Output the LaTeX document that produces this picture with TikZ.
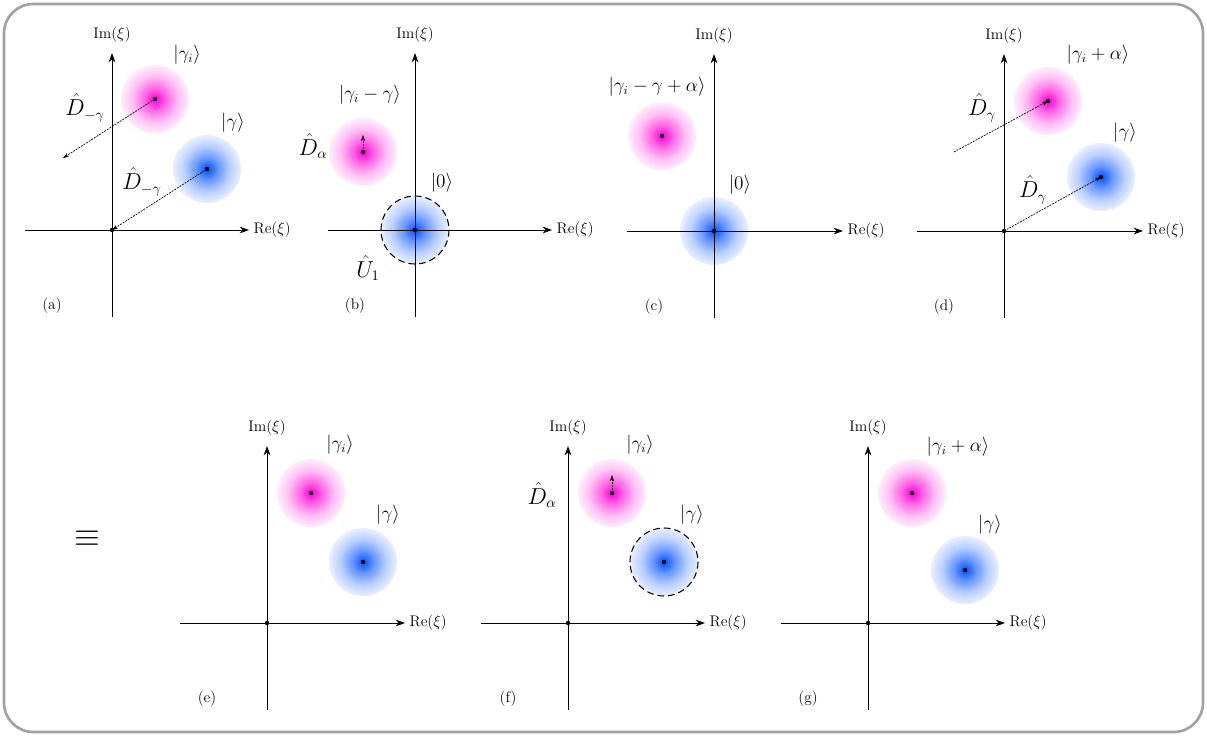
\documentclass[tikz,border=0pt]{standalone}
\usetikzlibrary{arrows.meta}
\definecolor{magblob}{RGB}{255,0,215}
\definecolor{blueblob}{RGB}{0,80,255}
\pgfdeclareradialshading{magshade}{\pgfpoint{0bp}{0bp}}{color(0bp)=(magblob); color(8bp)=(magblob!60); color(17bp)=(magblob!25); color(25bp)=(magblob!7); color(50bp)=(magblob!7)}
\pgfdeclareradialshading{blueshade}{\pgfpoint{0bp}{0bp}}{color(0bp)=(blueblob); color(8bp)=(blueblob!60); color(17bp)=(blueblob!27); color(25bp)=(blueblob!9); color(50bp)=(blueblob!9)}
\tikzset{
  axis/.style={-{Stealth[length=7pt,width=5pt]},line width=0.7pt},
  disp/.style={-{Stealth[length=4.5pt,width=3pt]},dash pattern=on 1.5pt off 0.8pt,line width=0.5pt},
  ketlab/.style={font=\fontsize{13.5}{16}\selectfont},
  oplab/.style={font=\fontsize{16}{19}\selectfont},
  axlab/.style={font=\fontsize{11.5}{14}\selectfont},
  trunc/.style={dash pattern=on 5pt off 3pt,line width=0.8pt},
}
\newcommand\magstate[2]{\coordinate (#1) at (#2); \shade[shading=magshade] (#1) circle[radius=34];}
\newcommand\bluestate[2]{\coordinate (#1) at (#2); \shade[shading=blueshade] (#1) circle[radius=34];}

\begin{document}
\begin{tikzpicture}[x=0.75pt,y=-0.75pt]
  \useasboundingbox (0,0) rectangle (1207,736);
  \draw[black!37,line width=2pt,rounded corners=22pt] (4,4) rectangle (1203,732);

  \magstate{Ma}{155,99}   \bluestate{Ba}{207,169}
  \magstate{Mb}{363,152}  \bluestate{Bb}{415,230}
  \magstate{Mc}{662,136}  \bluestate{Bc}{714,231}
  \magstate{Md}{1048,101} \bluestate{Bd}{1101,177}
  \magstate{Me}{311,493}  \bluestate{Be}{363,562}
  \magstate{Mf}{612,493}  \bluestate{Bf}{664,562}
  \magstate{Mg}{912,493}  \bluestate{Bg}{965,570}

  \foreach \n/\x/\y/\r in {a/112/230/137,b/415/230/137,c/714/231/129,d/1004/231/139,
                           e/267/623/138,f/568/623/137,g/868/623/137}{
    \coordinate (O\n) at (\x,\y);
    \coordinate (L\n) at (\x-87,\y);
    \coordinate (R\n) at (\x+\r,\y);
    \coordinate (T\n) at (\x,\y-177);
    \coordinate (D\n) at (\x,\y+87);
    \draw[axis] (L\n) -- (R\n);
    \draw[axis] (D\n) -- (T\n);
    \node[axlab,right] (re\n) at (R\n) {Re($\xi$)};
    \node[axlab] (im\n) at (\x,\y-195) {Im($\xi$)};
    \node[axlab] (cap\n) at (\x-60,\y+76) {(\n)};
  }

  \coordinate (Ea) at (63,158);
  \draw[disp] (Ma) -- (Ea);
  \draw[disp] (Ba) -- (Oa);
  \node[ketlab] (ka1) at (187,55) {$|\gamma_i\rangle$};
  \node[ketlab] (ka2) at (233,123) {$|\gamma\rangle$};
  \node[oplab] (da1) at (85,108) {$\hat{D}_{-\gamma}$};
  \node[oplab] (da2) at (142,182) {$\hat{D}_{-\gamma}$};

  \coordinate (Eb) at (363,135);
  \draw[disp] (Mb) -- (Eb);
  \draw[trunc] (Bb) circle[radius=34];
  \node[oplab] (db) at (313,146) {$\hat{D}_{\alpha}$};
  \node[ketlab] (kb1) at (370,95) {$|\gamma_i-\gamma\rangle$};
  \node[ketlab] (kb2) at (442,183) {$|0\rangle$};
  \node[oplab] (ub) at (368,268) {$\hat{U}_1$};

  \node[ketlab] (kc1) at (657,87) {$|\gamma_i-\gamma+\alpha\rangle$};
  \node[ketlab] (kc2) at (740,185) {$|0\rangle$};

  \coordinate (Sd) at (954,152);
  \draw[disp] (Sd) -- (Md);
  \draw[disp] (Od) -- (Bd);
  \node[oplab] (dd1) at (982,108) {$\hat{D}_{\gamma}$};
  \node[oplab] (dd2) at (1033,190) {$\hat{D}_{\gamma}$};
  \node[ketlab] (kd1) at (1098,55) {$|\gamma_i+\alpha\rangle$};
  \node[ketlab] (kd2) at (1125,133) {$|\gamma\rangle$};

  \node[font=\fontsize{26}{30}\selectfont] (eq) at (87,539) {$\equiv$};

  \node[ketlab] (ke1) at (340,445) {$|\gamma_i\rangle$};
  \node[ketlab] (ke2) at (388,515) {$|\gamma\rangle$};

  \coordinate (Ef) at (612,475);
  \draw[disp] (Mf) -- (Ef);
  \draw[trunc] (Bf) circle[radius=34];
  \node[oplab] (df) at (542,495) {$\hat{D}_{\alpha}$};
  \node[ketlab] (kf1) at (640,445) {$|\gamma_i\rangle$};
  \node[ketlab] (kf2) at (692,515) {$|\gamma\rangle$};

  \node[ketlab] (kg1) at (958,447) {$|\gamma_i+\alpha\rangle$};
  \node[ketlab] (kg2) at (990,525) {$|\gamma\rangle$};

  \foreach \p in {Ma,Ba,Mb,Bb,Mc,Bc,Md,Bd,Me,Be,Mf,Bf,Mg,Bg,Oa,Od,Oe,Of,Og}
    \fill (\p) circle[radius=2.2];
\end{tikzpicture}
\end{document}
